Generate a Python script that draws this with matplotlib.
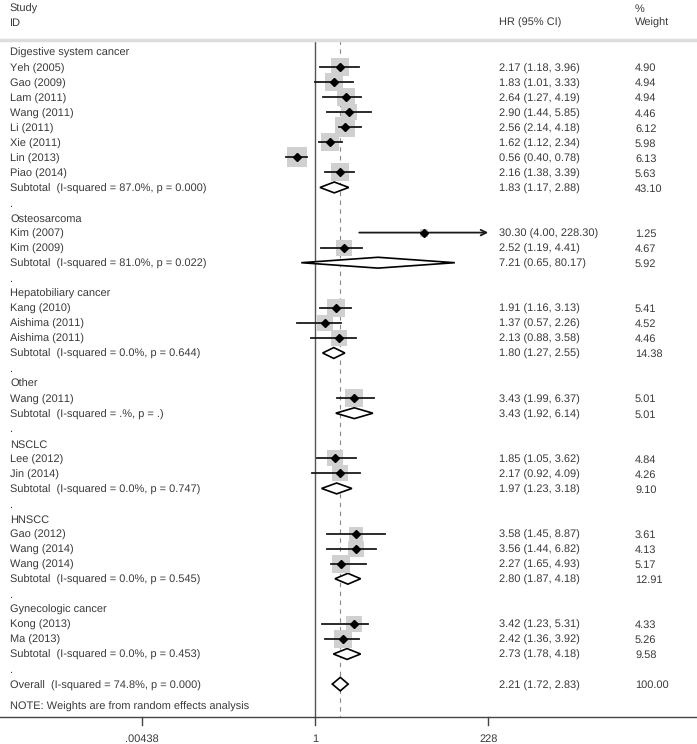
import numpy as np
import matplotlib.pyplot as plt
from matplotlib.patches import Polygon

plt.rcParams["text.hinting"] = "no_hinting"
plt.rcParams["text.hinting_factor"] = 1

# rows as drawn top to bottom, kind: h=group header, s=study, t=subtotal, d=dot spacer, o=overall
labels = ["Digestive system cancer", "Yeh (2005)", "Gao (2009)", "Lam (2011)", "Wang (2011)",
          "Li (2011)", "Xie (2011)", "Lin (2013)", "Piao (2014)",
          "Subtotal  (I-squared = 87.0%, p = 0.000)", ".",
          "Osteosarcoma", "Kim (2007)", "Kim (2009)",
          "Subtotal  (I-squared = 81.0%, p = 0.022)", ".",
          "Hepatobiliary cancer", "Kang (2010)", "Aishima (2011)", "Aishima (2011)",
          "Subtotal  (I-squared = 0.0%, p = 0.644)", ".",
          "Other", "Wang (2011)", "Subtotal  (I-squared = .%, p = .)", ".",
          "NSCLC", "Lee (2012)", "Jin (2014)",
          "Subtotal  (I-squared = 0.0%, p = 0.747)", ".",
          "HNSCC", "Gao (2012)", "Wang (2014)", "Wang (2014)",
          "Subtotal  (I-squared = 0.0%, p = 0.545)", ".",
          "Gynecologic cancer", "Kong (2013)", "Ma (2013)",
          "Subtotal  (I-squared = 0.0%, p = 0.453)", ".",
          "Overall  (I-squared = 74.8%, p = 0.000)"]
kinds = list("hssssssss" "td" "hsst" "d" "hssst" "d" "hst" "d" "hsst" "d" "hssst" "d" "hsst" "d" "o")
hr = [None, 2.17, 1.83, 2.64, 2.90, 2.56, 1.62, 0.56, 2.16, 1.83, None,
      None, 30.30, 2.52, 7.21, None,
      None, 1.91, 1.37, 2.13, 1.80, None,
      None, 3.43, 3.43, None,
      None, 1.85, 2.17, 1.97, None,
      None, 3.58, 3.56, 2.27, 2.80, None,
      None, 3.42, 2.42, 2.73, None,
      2.21]
lo = [None, 1.18, 1.01, 1.27, 1.44, 2.14, 1.12, 0.40, 1.38, 1.17, None,
      None, 4.00, 1.19, 0.65, None,
      None, 1.16, 0.57, 0.88, 1.27, None,
      None, 1.99, 1.92, None,
      None, 1.05, 0.92, 1.23, None,
      None, 1.45, 1.44, 1.65, 1.87, None,
      None, 1.23, 1.36, 1.78, None,
      1.72]
hi = [None, 3.96, 3.33, 4.19, 5.85, 4.18, 2.34, 0.78, 3.39, 2.88, None,
      None, 228.30, 4.41, 80.17, None,
      None, 3.13, 2.26, 3.58, 2.55, None,
      None, 6.37, 6.14, None,
      None, 3.62, 4.09, 3.18, None,
      None, 8.87, 6.82, 4.93, 4.18, None,
      None, 5.31, 3.92, 4.18, None,
      2.83]
weight = [None, 4.90, 4.94, 4.94, 4.46, 6.12, 5.98, 6.13, 5.63, 43.10, None,
          None, 1.25, 4.67, 5.92, None,
          None, 5.41, 4.52, 4.46, 14.38, None,
          None, 5.01, 5.01, None,
          None, 4.84, 4.26, 9.10, None,
          None, 3.61, 4.13, 5.17, 12.91, None,
          None, 4.33, 5.26, 9.58, None,
          100.00]
overall = 2.21
xticks = [0.00438, 1, 228]
xtick_labels = [".00438", "1", "228"]

W, H = 697, 744
fig = plt.figure(figsize=(W / 100, H / 100), dpi=100)
ax = fig.add_axes([0, 0, 1, 1])

# pixel geometry of the original
x1_px, px_per_ln = 315, 31.9
row0_px, row_px = 52, 15.05
ax.set_xscale("log")
ax.set_xlim(np.exp(-x1_px / px_per_ln), np.exp((W - x1_px) / px_per_ln))
ax.set_ylim((H - row0_px) / row_px, -row0_px / row_px)
ax.axis("off")

def prow(p):
    return (p - row0_px) / row_px

top = prow(40)
axis_y = prow(717)
txt = "#3a3a3a"
fs = 8.2
fam = ["Liberation Sans", "DejaVu Sans"]
xf = ax.get_yaxis_transform()  # x in axes fraction, y in data
base = 4.2 / row_px  # baseline sits a bit below row centre

def put(xpx, y, s, **kw):
    ax.text(xpx / W, y + base, s, transform=xf, fontsize=fs, color=txt, family=fam,
            va="baseline", **kw)

# header
put(10, prow(8), "Study")
put(10, prow(22), "ID")
put(499, prow(22), "HR (95% CI)")
put(635, prow(8), "%")
put(635, prow(22), "Weight")
ax.axhline(top, color="#dddddd", lw=2.5)

# reference lines
ax.plot([1, 1], [top, axis_y], color="#555555", lw=1.0, zorder=1)
ax.plot([overall, overall], [top, axis_y], color="#888888", lw=0.8, dashes=(4, 4), zorder=1)

# axis
ax.axhline(axis_y, color="#444444", lw=1.0)
for t, tl in zip(xticks, xtick_labels):
    ax.plot([t, t], [axis_y, prow(725)], color="#444444", lw=1.0)
    ax.text(t, prow(738) + base, tl, fontsize=fs, color=txt, family=fam, ha="center", va="baseline")

for i, (lab, k) in enumerate(zip(labels, kinds)):
    put(10, i, lab)
    if k in "sto":
        put(499, i, f"{hr[i]:.2f} ({lo[i]:.2f}, {hi[i]:.2f})")
        put(635, i, f"{weight[i]:.2f}")
    if k == "s":
        side = 7.7 * np.sqrt(weight[i]) * 0.72
        ax.scatter([hr[i]], [i], marker="s", s=side ** 2, color="#d0d0d0", lw=0, zorder=4)
        if hi[i] > 200:
            ax.annotate("", xy=(hi[i], i), xytext=(lo[i], i),
                        arrowprops=dict(arrowstyle="->", color="#1a1a1a", lw=1.3,
                                        shrinkA=0, shrinkB=0, mutation_scale=10), zorder=5)
        else:
            ax.plot([lo[i], hi[i]], [i, i], color="#1a1a1a", lw=1.3, zorder=5)
        ax.plot([hr[i]], [i], marker="D", ms=4, color="black", zorder=6)
    elif k in "to":
        dh = 0.36 if k == "t" else 0.45
        poly = Polygon([(lo[i], i), (hr[i], i - dh), (hi[i], i), (hr[i], i + dh)],
                       closed=True, facecolor="white", edgecolor="black", lw=1.2, zorder=3)
        ax.add_patch(poly)

put(10, prow(706), "NOTE: Weights are from random effects analysis")

fig.savefig("out.png", dpi=100)
